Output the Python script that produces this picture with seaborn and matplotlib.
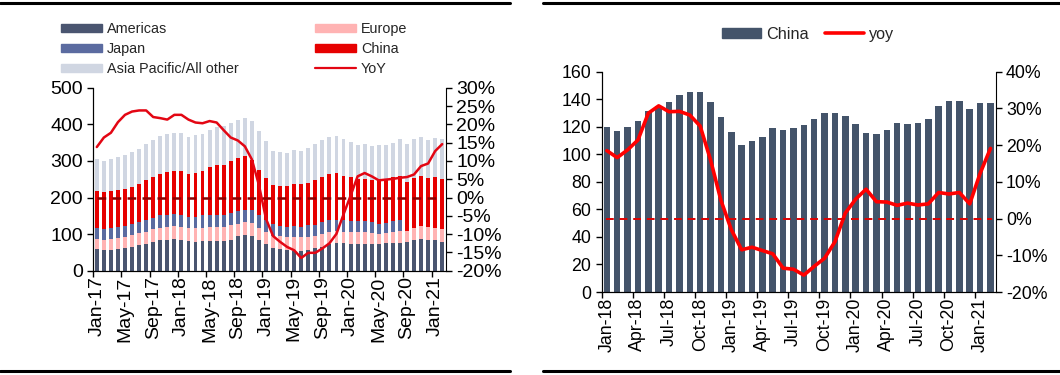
import numpy as np
import pandas as pd
import matplotlib
matplotlib.use("Agg")
import matplotlib.pyplot as plt
import matplotlib.lines as mlines
import matplotlib.patches as mpatches
import seaborn as sns

# ---- left chart: monthly shipments by region, Jan-17 .. Feb-21 ----
months_left = pd.date_range("2017-01-01", periods=50, freq="MS").strftime("%b-%y").tolist()

americas = [59, 58, 58, 60, 63, 66, 69, 74, 79, 84, 85, 87,
            84, 81, 79, 80, 82, 82, 82, 85, 95, 98, 95, 84,
            72, 63, 59, 56, 55, 55, 56, 61, 65, 73, 75, 75,
            73, 72, 73, 72, 73, 75, 75, 77, 78, 84, 86, 85, 84, 79]
europe = [28, 27, 29, 30, 30, 31, 33, 32, 34, 34, 35, 35,
          35, 35, 37, 38, 37, 37, 37, 39, 34, 36, 36, 33,
          34, 32, 35, 37, 36, 37, 37, 34, 35, 32, 33, 31,
          32, 33, 32, 32, 28, 29, 30, 32, 31, 32, 36, 35, 33, 36]
japan = [30, 30, 30, 29, 30, 30, 31, 34, 32, 33, 33, 32,
         33, 32, 32, 33, 34, 34, 34, 33, 33, 33, 34, 34,
         32, 32, 28, 27, 31, 28, 31, 30, 32, 33, 32, 32,
         30, 30, 30, 28, 28, 27, 30, 29, 0, 0, 0, 0, 0, 0]
china = [101, 100, 100, 101, 101, 102, 103, 107, 110, 113, 117, 119,
         120, 117, 119, 122, 131, 135, 136, 142, 146, 146, 137, 124,
         116, 106, 110, 111, 116, 117, 117, 122, 124, 127, 128, 122,
         120, 116, 116, 116, 119, 118, 120, 120, 134, 137, 137, 133, 138, 135]
other = [86, 86, 89, 91, 93, 96, 98, 100, 101, 104, 105, 104,
         104, 100, 103, 102, 101, 105, 106, 105, 103, 105, 107, 106,
         100, 94, 93, 92, 91, 89, 94, 98, 100, 100, 99, 100,
         97, 93, 94, 92, 95, 94, 95, 103, 102, 107, 106, 105, 109, 110]
yoy_left = [13.8, 16.4, 17.7, 20.6, 22.6, 23.5, 23.8, 23.8, 22.0, 21.7, 21.3, 22.6,
            22.6, 21.3, 20.5, 20.3, 20.9, 20.5, 18.4, 16.4, 15.6, 14.0, 10.4, 3.4,
            -5.8, -10.5, -12.1, -13.5, -14.4, -16.5, -15.1, -15.1, -13.9, -12.5, -9.9, -4.6,
            0.5, 5.8, 6.7, 5.8, 4.7, 4.9, 5.1, 5.4, 5.6, 6.3, 8.6, 9.3, 12.7, 14.6]

# ---- right chart: China, Jan-18 .. Feb-21 ----
months_right = pd.date_range("2018-01-01", periods=38, freq="MS").strftime("%b-%y").tolist()
china_r = [120, 117, 120, 124, 131.5, 135, 138, 143, 145, 145, 138, 127,
           116, 107, 110, 112.5, 119, 117.5, 119, 121, 126, 130, 130, 128,
           122, 115.5, 115, 118, 123, 122, 123, 126, 135, 138.5, 139, 133, 137, 137]
yoy_right = [18.5, 16.6, 18.7, 21.4, 28.7, 30.7, 29.1, 29.2, 28.2, 25.2, 16.0, 5.0,
             -3.0, -8.5, -7.8, -8.7, -9.6, -13.5, -13.8, -15.4, -13.0, -10.8, -6.3, 1.5,
             5.3, 8.0, 4.6, 4.5, 3.6, 4.2, 3.7, 4.0, 7.1, 6.7, 7.1, 4.0, 12.3, 19.1]

C_AME = "#4A5570"
C_EUR = "#FFB3B3"
C_JAP = "#5B6BA0"
C_CHN = "#E60000"
C_OTH = "#D0D6E2"
C_RBAR = "#44546A"

FS_L = 14
FS_R = 12.8

sns.set_style("ticks")
plt.rcParams["font.family"] = ["Liberation Sans", "DejaVu Sans"]
plt.rcParams["axes.edgecolor"] = "black"
plt.rcParams["xtick.color"] = "black"
plt.rcParams["ytick.color"] = "black"

fig = plt.figure(figsize=(10.6, 3.75), dpi=100)

# ================= left chart =================
ax1 = fig.add_axes([0.088, 0.278, 0.3325, 0.488])
df = pd.DataFrame({"month": months_left, "Americas": americas, "Europe": europe,
                   "Japan": japan, "China": china, "Other": other})
# stacked bars: draw cumulative totals from the top layer down
layers = [("Other", C_OTH), ("China", C_CHN), ("Japan", C_JAP), ("Europe", C_EUR), ("Americas", C_AME)]
order = ["Americas", "Europe", "Japan", "China", "Other"]
for name, col in layers:
    upto = order[:order.index(name) + 1]
    tot = df[upto].sum(axis=1)
    sns.barplot(x=df["month"], y=tot, color=col, width=0.55, saturation=1,
                edgecolor="none", linewidth=0, ax=ax1)
ax1.set_ylim(0, 500)
ax1.set_yticks(range(0, 501, 100))
ax1.set_xlim(-0.5, len(months_left) - 0.5)
ax1.set_xlabel("")
ax1.set_ylabel("")
idx = np.arange(0, len(months_left), 4)
ax1.set_xticks(idx)
ax1.set_xticklabels([months_left[i] for i in idx], rotation=90)
ax1.tick_params(axis="x", length=0, labelsize=FS_L, pad=4)
ax1.set_xticks(idx - 0.5, minor=True)
ax1.tick_params(axis="x", which="minor", length=4, width=1)
ax1.tick_params(axis="y", labelsize=FS_L, length=4, width=1)
ax1.spines["top"].set_visible(False)
ax1.spines["right"].set_visible(False)

ax1b = ax1.twinx()
sns.lineplot(x=np.arange(len(yoy_left)), y=yoy_left, color="#E30613", lw=1.8, ax=ax1b)
ax1b.axhline(0, xmin=0.01, xmax=0.99, color="#8B0000", lw=1.8, ls=(0, (3.5, 2.5)))
ax1b.set_ylim(-20, 30)
ax1b.set_yticks(range(-20, 31, 5))
ax1b.set_yticklabels([f"{v}%" for v in range(-20, 31, 5)])
ax1b.tick_params(axis="y", labelsize=FS_L, length=4, width=1)
ax1b.spines["top"].set_visible(False)
ax1b.set_xlim(-0.5, len(months_left) - 0.5)

h_left = [mpatches.Patch(color=C_AME, label="Americas"),
          mpatches.Patch(color=C_JAP, label="Japan"),
          mpatches.Patch(color=C_OTH, label="Asia Pacific/All other"),
          mpatches.Patch(color=C_EUR, label="Europe"),
          mpatches.Patch(color=C_CHN, label="China"),
          mlines.Line2D([], [], color="#E30613", lw=1.6, label="YoY")]
fig.legend(handles=h_left, ncol=2, loc="upper left", bbox_to_anchor=(0.058, 0.942),
           frameon=False, fontsize=10.4, handlelength=2.8, handleheight=0.5,
           handletextpad=0.35, columnspacing=5.3, labelspacing=0.42,
           borderpad=0, borderaxespad=0)

# ================= right chart =================
ax2 = fig.add_axes([0.5676, 0.2213, 0.3717, 0.5875])
dfr = pd.DataFrame({"month": months_right, "China": china_r})
sns.barplot(data=dfr, x="month", y="China", color=C_RBAR, width=0.63, saturation=1,
            edgecolor="none", linewidth=0, ax=ax2)
ax2.set_ylim(0, 160)
ax2.set_yticks(range(0, 161, 20))
ax2.set_xlim(-0.5, len(months_right) - 0.5)
ax2.set_xlabel("")
ax2.set_ylabel("")
idx2 = np.arange(0, len(months_right), 3)
ax2.set_xticks(idx2)
ax2.set_xticklabels([months_right[i] for i in idx2], rotation=90)
ax2.tick_params(axis="x", length=0, labelsize=FS_R, pad=4)
ax2.set_xticks(idx2 - 0.5, minor=True)
ax2.tick_params(axis="x", which="minor", length=4, width=1)
ax2.tick_params(axis="y", labelsize=FS_R, length=4, width=1)
ax2.spines["top"].set_visible(False)
ax2.spines["right"].set_visible(False)

ax2b = ax2.twinx()
sns.lineplot(x=np.arange(len(yoy_right)), y=yoy_right, color="#FF0000", lw=2.6, ax=ax2b)
ax2b.axhline(0, xmin=0.01, xmax=0.99, color="#E00000", lw=1.4, ls=(0, (4, 3)))
ax2b.set_ylim(-20, 40)
ax2b.set_yticks(range(-20, 41, 10))
ax2b.set_yticklabels([f"{v}%" for v in range(-20, 41, 10)])
ax2b.tick_params(axis="y", labelsize=FS_R, length=4, width=1)
ax2b.spines["top"].set_visible(False)
ax2b.set_xlim(-0.5, len(months_right) - 0.5)

h_right = [mpatches.Patch(color=C_RBAR, label="China"),
           mlines.Line2D([], [], color="#FF0000", lw=2.6, label="yoy")]
fig.legend(handles=h_right, ncol=2, loc="center left", bbox_to_anchor=(0.681, 0.909),
           frameon=False, fontsize=11.7, handlelength=2.4, handleheight=0.55,
           handletextpad=0.3, columnspacing=1.0, borderpad=0, borderaxespad=0)

# horizontal rules above and below each panel
for x0, x1 in [(0.0, 0.481), (0.512, 1.0)]:
    for y in (0.991, 0.011):
        fig.add_artist(mlines.Line2D([x0, x1], [y, y], color="black", lw=2.2,
                                     transform=fig.transFigure))

fig.savefig("out.png", dpi=100)
